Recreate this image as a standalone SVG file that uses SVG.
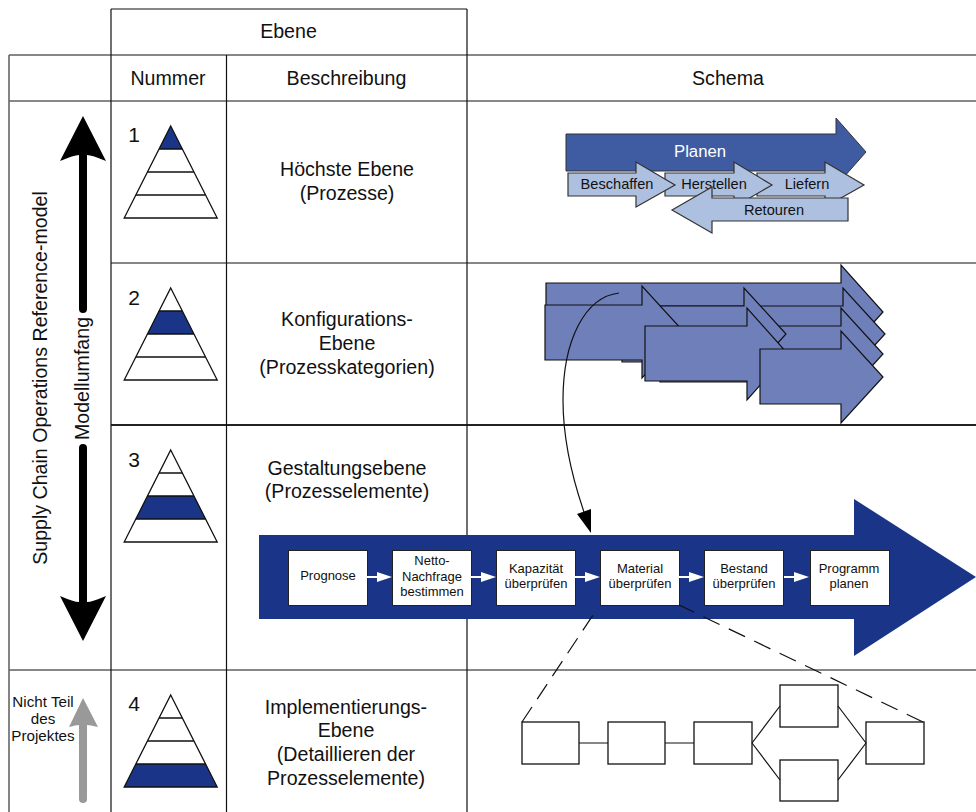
<svg xmlns="http://www.w3.org/2000/svg" width="976" height="812" viewBox="0 0 976 812">
<style>
text{font-family:"Liberation Sans",Arial,sans-serif;fill:#111;text-anchor:middle}
.h{font-size:19.6px}
.n{font-size:21px}
.s{font-size:14.6px}
.l{font-size:15.2px}
.b{font-size:13px}
.grid{stroke:#111;stroke-width:1.2;fill:none}
.band{fill:#1a3587}
.py{fill:none;stroke:#111;stroke-width:1.3}
.pale{fill:#aec0e0;stroke:#333;stroke-width:1.2}
.mid{fill:#6e7fba;stroke:#111;stroke-width:1.2}
.box{fill:#fff;stroke:#222;stroke-width:1}
.wbox{fill:#fff;stroke:#111;stroke-width:1.3}
.con{fill:none;stroke:#111;stroke-width:1.2}
.dash{fill:none;stroke:#111;stroke-width:1.2}
.wl{stroke:#fff;stroke-width:2}
</style>
<defs>
<g id="pyr" class="py">
<polygon points="0,0 46.5,92 -46.500,92"/>
<path d="M-11.6 23H11.6M-23.2 46H23.2M-34.9 69H34.9"/>
</g>
<g id="wa"><path class="wl" d="M0 0H12"/><polygon points="10,-5 25,0 10,5" fill="#fff"/></g>
</defs>

<g id="table">
<path class="grid" d="M111 9H467M9 55H976M9 101H976M111 263H976M9 670H976"/>
<path d="M111 425H976" stroke="#222" stroke-width="2" fill="none"/>
<path class="grid" d="M111 9V812M226.500 55V812M467 9V812"/>
<path d="M9 55V812" stroke="#666" stroke-width="1.6" fill="none"/>
<text class="h" x="288.500" y="37.500">Ebene</text>
<text class="h" x="168" y="85">Nummer</text>
<text class="h" x="346.500" y="85">Beschreibung</text>
<text class="h" x="728" y="85">Schema</text>
</g>

<g id="scope">
<text class="h" transform="translate(46.500,378) rotate(-90)">Supply Chain Operations Reference-model</text>
<path fill="#000" d="M83 116L106 161Q92 155 87 155V309A4 4 0 0 1 79 309V155Q74 155 60 161Z"/>
<path fill="#000" d="M83 641L106 596Q92 602 87 602V448A4 4 0 0 0 79 448V602Q74 602 60 596Z"/>
<text class="h" transform="translate(89,378.500) rotate(-90)">Modellumfang</text>
</g>

<g id="out-of-scope">
<path fill="#999" d="M83 698L98 727Q90 725 87 725V799A4 4 0 0 1 79 799V725Q76 725 69 727Z"/>
<text class="l" x="43" y="707">Nicht Teil</text>
<text class="l" x="43" y="724">des</text>
<text class="l" x="43" y="741">Projektes</text>
</g>

<g id="level1">
<text class="n" x="134" y="142">1</text>
<g transform="translate(170.7,126)"><polygon class="band" points="0,0 11.6,23 -11.6,23"/><use href="#pyr"/></g>
<text class="h" x="347" y="176">Höchste Ebene</text>
<text class="h" x="347" y="200">(Prozesse)</text>
</g>
<g id="level2">
<text class="n" x="134" y="305">2</text>
<g transform="translate(170.7,288)"><polygon class="band" points="-11.6,23 11.6,23 23.2,46 -23.2,46"/><use href="#pyr"/></g>
<text class="h" x="347" y="326">Konfigurations-</text>
<text class="h" x="347" y="349.500">Ebene</text>
<text class="h" x="347" y="373.500">(Prozesskategorien)</text>
</g>
<g id="level3">
<text class="n" x="134" y="467">3</text>
<g transform="translate(170.7,450)"><polygon class="band" points="-23.2,46 23.2,46 34.9,69 -34.9,69"/><use href="#pyr"/></g>
<text class="h" x="347" y="475">Gestaltungsebene</text>
<text class="h" x="347" y="497.500">(Prozesselemente)</text>
</g>
<g id="level4">
<text class="n" x="134" y="711">4</text>
<g transform="translate(170.7,695)"><polygon class="band" points="-34.9,69 34.9,69 46.5,92 -46.500,92"/><use href="#pyr"/></g>
<text class="h" x="346" y="714">Implementierungs-</text>
<text class="h" x="346" y="737">Ebene</text>
<text class="h" x="346" y="761">(Detaillieren der</text>
<text class="h" x="346" y="785">Prozesselemente)</text>
</g>

<g id="schema1">
<g id="planen"><polygon points="566,134 836,134 836,118 866,152 836,186 836,171 566,171" fill="#3f5ca3" stroke="#333" stroke-width="1"/><text x="700" y="157" font-size="16.7" style="fill:#fff">Planen</text></g>
<g id="liefern"><polygon class="pale" points="757,173 825,173 825,162 864,185 825,207 825,196 757,196"/><text class="s" x="807" y="189">Liefern</text></g>
<g id="herstellen"><polygon class="pale" points="665,173 734,173 734,162 772,185 734,207 734,196 665,196"/><text class="s" x="714" y="189">Herstellen</text></g>
<g id="beschaffen"><polygon class="pale" points="568,173 636,173 636,162 675,185 636,207 636,196 568,196"/><text class="s" x="617" y="189">Beschaffen</text></g>
<g id="retouren"><polygon class="pale" points="672,210 712,187 712,198 848,198 848,221 712,221 712,233"/><text class="s" x="774" y="215">Retouren</text></g>
</g>

<g id="schema2">
<polygon class="mid" points="546,283 841,283 841,265 883,312 841,359 841,341 546,341"/>
<polygon class="mid" points="622,306 843,306 843,288 885,334 843,380 843,362 622,362"/>
<polygon class="mid" points="660,326 841,326 841,308 883,354 841,400 841,382 660,382"/>
<polygon class="mid" points="655,306 744,306 744,288 786,334 744,380 744,362 655,362"/>
<polygon class="mid" points="545,305 642,305 642,286 684,332 642,378 642,360 545,360"/>
<polygon class="mid" points="645,326 747,326 747,308 788,354 747,400 747,381 645,381"/>
<polygon class="mid" points="760,349 841,349 841,331 883,377 841,423 841,404 760,404"/>
</g>

<g id="process">
<polygon points="259,535 854,535 854,499 976,577 854,656 854,619 259,619" fill="#1a3587"/>
<g id="b1"><rect class="box" x="288.500" y="550.500" width="79" height="55"/><text class="b" x="328" y="580">Prognose</text></g>
<g id="b2"><rect class="box" x="392.500" y="550.500" width="79" height="55"/><text class="b" x="432" y="565">Netto-</text><text class="b" x="432" y="581">Nachfrage</text><text class="b" x="432" y="596">bestimmen</text></g>
<g id="b3"><rect class="box" x="496.500" y="550.500" width="79" height="55"/><text class="b" x="536" y="573">Kapazität</text><text class="b" x="536" y="588">überprüfen</text></g>
<g id="b4"><rect class="box" x="600.500" y="550.500" width="79" height="55"/><text class="b" x="640" y="573">Material</text><text class="b" x="640" y="588">überprüfen</text></g>
<g id="b5"><rect class="box" x="704.500" y="550.500" width="79" height="55"/><text class="b" x="744" y="573">Bestand</text><text class="b" x="744" y="588">überprüfen</text></g>
<g id="b6"><rect class="box" x="810.500" y="550.500" width="79" height="55"/><text class="b" x="849" y="573">Programm</text><text class="b" x="849" y="588">planen</text></g>
</g>

<g id="detail">
<rect class="wbox" x="522" y="722" width="57" height="42"/>
<rect class="wbox" x="608" y="722" width="57" height="42"/>
<rect class="wbox" x="694" y="722" width="58" height="42"/>
<rect class="wbox" x="780" y="685" width="58" height="42"/>
<rect class="wbox" x="780" y="760" width="58" height="41"/>
<rect class="wbox" x="866" y="722" width="58" height="42"/>
</g>

<g id="connectors">
<use href="#wa" x="367" y="577"/><use href="#wa" x="471" y="577"/><use href="#wa" x="575" y="577"/><use href="#wa" x="679" y="577"/><use href="#wa" x="784" y="577"/>
<path class="con" d="M579 743H608M665 743H694M752 743L780 706M752 743L780 780M838 706L866 743M838 780L866 743"/>
<path class="dash" stroke-dasharray="18 9.500" d="M522 722L595 612"/>
<path class="dash" stroke-dasharray="18 10.200" d="M923 722L679 605"/>
<path class="con" d="M619 293C585 297 563 340 563 400C563 440 573 480 584 512"/>
<polygon points="591,533 577,514 591,509" fill="#000"/>
</g>
</svg>
